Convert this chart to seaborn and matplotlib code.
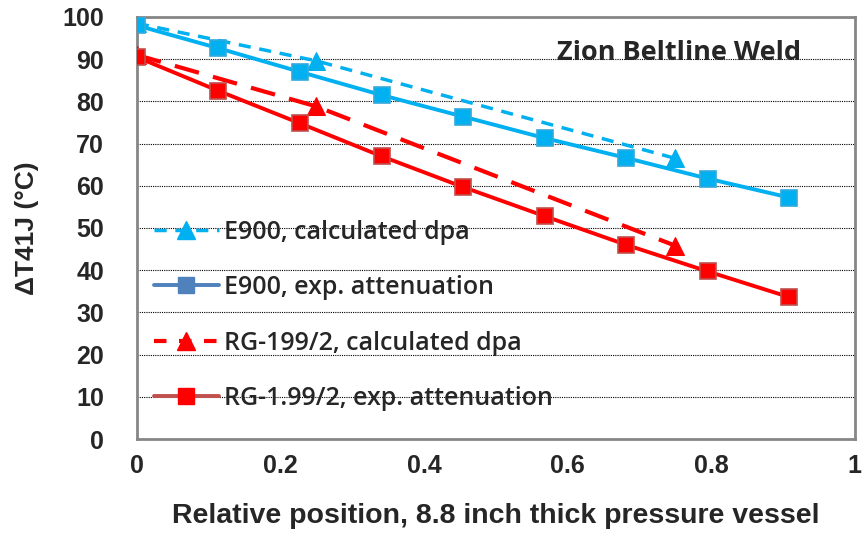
import numpy as np
import pandas as pd
import matplotlib
matplotlib.use("Agg")
import matplotlib.pyplot as plt
from matplotlib.lines import Line2D
from matplotlib.ticker import MultipleLocator
import seaborn as sns

sns.set_theme(style="white")
plt.rcParams['font.family'] = ['Liberation Sans', 'DejaVu Sans']

# ---- data ----
pos_exp = [0, 1/8.8, 2/8.8, 3/8.8, 4/8.8, 5/8.8, 6/8.8, 7/8.8, 8/8.8]
e900_exp = [98.0, 92.6, 87.0, 81.5, 76.4, 71.3, 66.6, 61.7, 57.2]
rg_exp = [90.5, 82.5, 74.8, 67.0, 59.7, 52.8, 46.0, 39.7, 33.6]

pos_calc = [0, 0.25, 0.75]
e900_calc = [98.5, 89.6, 66.5]
rg_calc = [91.0, 78.8, 45.8]

labels = ["E900, calculated dpa", "E900, exp. attenuation",
          "RG-199/2, calculated dpa", "RG-1.99/2, exp. attenuation"]
title_text = "Zion Beltline Weld"
xlabel = "Relative position, 8.8 inch thick pressure vessel"
ylabel = "ΔT41J (°C)"
xtick_vals = [0, 0.2, 0.4, 0.6, 0.8, 1.0]
xtick_labels = ["0", "0.2", "0.4", "0.6", "0.8", "1"]

BLUE = "#00B0F0"
RED = "#FF0000"

fig = plt.figure(figsize=(8.66, 5.39), dpi=100)
ax = fig.add_axes([0.158, 0.1855, 0.829, 0.783])

sns.lineplot(x=pos_calc, y=e900_calc, ax=ax, color=BLUE, lw=2.5,
             linestyle=(0, (3.5, 2.5)), marker="^", markersize=13,
             markeredgecolor=BLUE, zorder=3)
sns.lineplot(x=pos_calc, y=rg_calc, ax=ax, color=RED, lw=3,
             linestyle=(0, (6, 3.5)), marker="^", markersize=13,
             markeredgecolor=RED, zorder=3)
sns.lineplot(x=pos_exp, y=e900_exp, ax=ax, color=BLUE, lw=2.8,
             marker="s", markersize=11, markeredgecolor="#33A9DA",
             markeredgewidth=1.2, zorder=4)
sns.lineplot(x=pos_exp, y=rg_exp, ax=ax, color=RED, lw=2.8,
             marker="s", markersize=11, markeredgecolor="#C0504D",
             markeredgewidth=1.2, zorder=4)

ax.set_xlim(0, 1)
ax.set_ylim(0, 100)
ax.set_xticks(xtick_vals)
ax.set_xticklabels(xtick_labels)
ax.xaxis.set_minor_locator(MultipleLocator(0.1))
ax.yaxis.set_major_locator(MultipleLocator(10))
ax.yaxis.set_minor_locator(MultipleLocator(5))

ax.grid(axis="y", which="major", color="black", linestyle=(0, (1, 1)), lw=0.8)
ax.set_axisbelow(True)
for s in ax.spines.values():
    s.set_color("#868686")
    s.set_linewidth(2)
ax.tick_params(axis="x", which="major", direction="inout", length=15,
               width=1, color="#868686", labelsize=18, pad=3)
ax.tick_params(axis="y", which="major", direction="out", length=8.5,
               width=1, color="#868686", labelsize=18, pad=15)
ax.tick_params(axis="both", which="minor", direction="in", length=4.5,
               width=1, color="#868686")
for t in ax.get_xticklabels() + ax.get_yticklabels():
    t.set_fontweight("bold")

ax.set_xlabel(xlabel, fontsize=20.5, fontweight="bold", labelpad=18)
ax.set_ylabel(ylabel, fontsize=19, fontweight="bold", labelpad=17)

ax.text(0.925, 0.915, title_text, transform=ax.transAxes, ha="right", va="center",
        fontsize=19.5, fontweight="bold", family=["Open Sans", "DejaVu Sans"])

handles = [
    Line2D([], [], color=BLUE, lw=2.5, linestyle=(0, (3.5, 2.5)), marker="^",
           markersize=13, markeredgecolor=BLUE),
    Line2D([], [], color="#4F81BD", lw=2.8, marker="s", markersize=11,
           markeredgecolor="#4F81BD"),
    Line2D([], [], color=RED, lw=3, linestyle=(0, (3, 3)), marker="^",
           markersize=13, markeredgecolor=RED),
    Line2D([], [], color="#C0504D", lw=2.8, marker="s", markersize=11,
           markerfacecolor=RED, markeredgecolor=RED),
]
leg = ax.legend(handles, labels, loc="lower left", bbox_to_anchor=(-0.008, 0.013),
                frameon=False, handlelength=2.6, labelspacing=1.22,
                handletextpad=0.2, borderaxespad=0.5,
                prop={"family": ["Open Sans", "DejaVu Sans"], "size": 18,
                      "weight": "semibold"})

fig.savefig("out.png", dpi=100)
